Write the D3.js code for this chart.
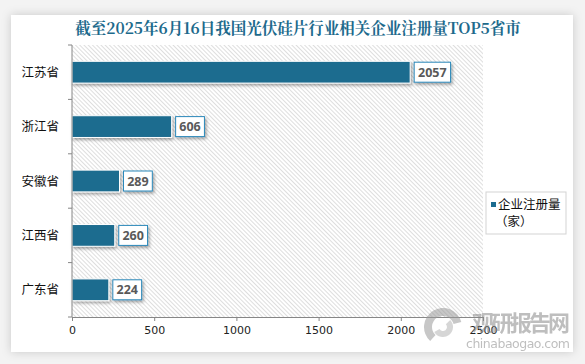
<!DOCTYPE html>
<html>
<head>
<meta charset="utf-8">
<script src="https://cdn.jsdelivr.net/npm/d3@7"></script>
<style>
  body { margin: 0; background: #ececec; }
  svg { display: block; }
</style>
</head>
<body>
<svg id="chart"></svg>
<script>
const provinces = ["江苏省", "浙江省", "安徽省", "江西省", "广东省"];
const counts = [2057, 606, 289, 260, 224];
const xTicks = [0, 500, 1000, 1500, 2000, 2500];
const title = "截至2025年6月16日我国光伏硅片行业相关企业注册量TOP5省市";
const legendLines = ["企业注册量", "（家）"];

const width = 585, height = 364;
const margin = { left: 72, right: 102, top: 45, bottom: 47 };
const barColor = "#1d6c8f";
const cjk = "'Noto Sans CJK SC', 'Microsoft YaHei', sans-serif";

const svg = d3.select("#chart").attr("width", width).attr("height", height);
const defs = svg.append("defs");

// soft shadow for the white panel
const panelShadow = defs.append("filter").attr("id", "panelShadow")
    .attr("x", "-5%").attr("y", "-5%").attr("width", "110%").attr("height", "110%");
panelShadow.append("feDropShadow").attr("dx", 0).attr("dy", 0)
    .attr("stdDeviation", 5).attr("flood-color", "#000").attr("flood-opacity", 0.18);

// shadow under bars and labels
const barShadow = defs.append("filter").attr("id", "barShadow")
    .attr("x", "-10%").attr("y", "-30%").attr("width", "130%").attr("height", "180%");
barShadow.append("feDropShadow").attr("dx", 1.5).attr("dy", 2)
    .attr("stdDeviation", 1.5).attr("flood-color", "#000").attr("flood-opacity", 0.35);

// diagonal hatch for the plot area ("\" direction)
const hatch = defs.append("pattern").attr("id", "hatch")
    .attr("patternUnits", "userSpaceOnUse").attr("width", 3).attr("height", 3)
    .attr("patternTransform", "rotate(-45)");
hatch.append("rect").attr("width", 3).attr("height", 3).attr("fill", "#fff");
hatch.append("line").attr("x1", 0.5).attr("y1", 0).attr("x2", 0.5).attr("y2", 3)
    .attr("stroke", "#dedede").attr("stroke-width", 1);

svg.append("rect").attr("width", width).attr("height", height).attr("fill", "#f3f3f3");
svg.append("rect").attr("x", 11).attr("y", 15).attr("width", 562).attr("height", 337)
    .attr("fill", "#fff").attr("filter", "url(#panelShadow)");

svg.append("text")
    .attr("x", 298).attr("y", 34)
    .attr("text-anchor", "middle")
    .style("font-family", "'Noto Serif CJK SC', " + cjk)
    .style("font-size", "15.5px").style("font-weight", "bold")
    .attr("fill", "#1d6a8c")
    .text(title);

const x = d3.scaleLinear().domain([0, 2500])
    .range([margin.left, width - margin.right]);
const y = d3.scaleBand().domain(provinces)
    .range([margin.top, height - margin.bottom])
    .paddingInner(0.6).paddingOuter(0.3);

svg.append("rect")
    .attr("x", x(0)).attr("y", margin.top)
    .attr("width", x(2500) - x(0)).attr("height", height - margin.bottom - margin.top)
    .attr("fill", "url(#hatch)");

const data = provinces.map((p, i) => ({ name: p, value: counts[i] }));

svg.append("g").selectAll("rect").data(data).join("rect")
    .attr("x", x(0))
    .attr("y", d => y(d.name))
    .attr("width", d => x(d.value) - x(0))
    .attr("height", y.bandwidth())
    .attr("fill", barColor)
    .attr("stroke", "#fff").attr("stroke-width", 1)
    .attr("filter", "url(#barShadow)");

// value labels in boxed callouts
const labels = svg.append("g").selectAll("g").data(data).join("g")
    .attr("transform", d => `translate(${x(d.value) + 4}, ${y(d.name) + y.bandwidth() / 2})`);
labels.each(function(d) {
    const g = d3.select(this);
    const w = String(d.value).length * 7.6 + 6;
    g.append("rect")
        .attr("x", 0).attr("y", -10).attr("width", w).attr("height", 20)
        .attr("fill", "#fff").attr("stroke", "#2b88ba").attr("stroke-width", 1)
        .attr("filter", "url(#barShadow)");
    g.append("text")
        .attr("x", w / 2).attr("dy", "0.36em")
        .attr("text-anchor", "middle")
        .style("font-family", "'Open Sans', 'DejaVu Sans', sans-serif")
        .style("font-size", "12.5px").style("font-weight", "bold")
        .attr("fill", "#595959")
        .text(d.value);
});

// axes
const axisColor = "#868686";
const yAxis = svg.append("g").attr("transform", `translate(${x(0)},0)`);
yAxis.append("line").attr("y1", margin.top).attr("y2", height - margin.bottom)
    .attr("stroke", axisColor);
d3.range(0, 6).forEach(i => {
    const yy = margin.top + i * ((height - margin.bottom - margin.top) / 5);
    yAxis.append("line").attr("x1", -4).attr("x2", 0).attr("y1", yy).attr("y2", yy)
        .attr("stroke", axisColor);
});
yAxis.selectAll("text.cat").data(provinces).join("text")
    .attr("class", "cat")
    .attr("x", -13).attr("y", d => y(d) + y.bandwidth() / 2)
    .attr("dy", "0.36em").attr("text-anchor", "end")
    .style("font-family", cjk).style("font-size", "12.5px")
    .attr("fill", "#111")
    .text(d => d);

const xAxis = svg.append("g").attr("transform", `translate(0,${height - margin.bottom})`)
    .call(d3.axisBottom(x).tickValues(xTicks).tickFormat(d3.format("d"))
        .tickSize(4).tickSizeOuter(0).tickPadding(5));
xAxis.select(".domain").attr("stroke", axisColor);
xAxis.selectAll(".tick line").attr("stroke", axisColor);
xAxis.selectAll(".tick text")
    .style("font-family", "'DejaVu Sans', sans-serif").style("font-size", "11px")
    .attr("fill", "#222");

// legend
const legend = svg.append("g").attr("transform", "translate(486,192)");
legend.append("rect").attr("width", 80).attr("height", 42)
    .attr("fill", "#fff").attr("stroke", "#d3d3d3");
legend.append("rect").attr("x", 5).attr("y", 10).attr("width", 5).attr("height", 5)
    .attr("fill", barColor);
legend.selectAll("text").data(legendLines).join("text")
    .attr("x", (d, i) => i === 0 ? 12 : 9)
    .attr("y", (d, i) => 17 + i * 17)
    .style("font-family", cjk).style("font-size", "12.5px")
    .attr("fill", "#111")
    .text(d => d);

// watermark
const wm = svg.append("g").attr("opacity", 0.55);
const logo = wm.append("g").attr("transform", "translate(443,327)");
logo.append("path")
    .attr("d", d3.arc().innerRadius(11).outerRadius(19).startAngle(-2.4).endAngle(1.3)())
    .attr("fill", "#9a9a9a");
logo.append("path")
    .attr("d", d3.arc().innerRadius(4).outerRadius(10).startAngle(0.8).endAngle(4.2)())
    .attr("fill", "#b5b5b5");
wm.append("text").attr("x", 472).attr("y", 331)
    .style("font-family", cjk).style("font-size", "22px").style("font-weight", "bold")
    .attr("fill", "#8a8a8a").attr("textLength", 98)
    .text("观研报告网");
wm.append("text").attr("x", 466).attr("y", 348)
    .style("font-family", "'DejaVu Sans', sans-serif").style("font-size", "12.5px")
    .attr("fill", "#8a8a8a").attr("textLength", 104)
    .text("chinabaogao.com");
</script>
</body>
</html>
